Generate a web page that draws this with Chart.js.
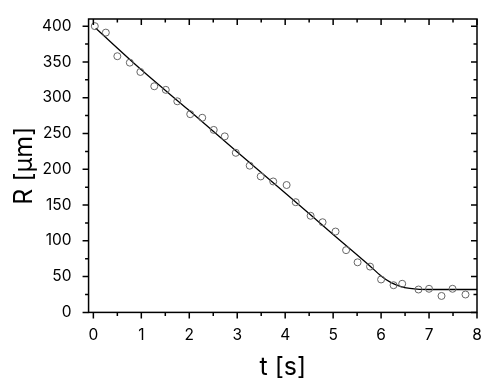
<!DOCTYPE html>
<html>
<head>
<meta charset="utf-8">
<script src="https://cdn.jsdelivr.net/npm/chart.js@4.4.0/dist/chart.umd.min.js"></script>
<style>
  html, body { margin: 0; padding: 0; background: #fff; }
  #wrap { width: 498px; height: 389px; }
</style>
</head>
<body>
<div id="wrap"><canvas id="radiusChart"></canvas></div>
<script>
// measured points
const timeValues = [0.03, 0.26, 0.5, 0.76, 0.98, 1.27, 1.51, 1.75, 2.02, 2.27, 2.51, 2.74, 2.97, 3.26, 3.49, 3.75,
  4.03, 4.22, 4.53, 4.78, 5.05, 5.27, 5.51, 5.77, 6.0, 6.26, 6.44, 6.78, 7.0, 7.26, 7.49, 7.76];
const radiusValues = [400, 391, 358, 349, 336, 316, 311, 295, 277, 272, 255, 246, 223, 205, 190, 183,
  178, 154, 135, 126, 113, 87, 70, 64, 46, 38, 40, 32, 33, 23, 33, 25];

// fitted curve
const fitTime = [0.05, 1, 2, 3, 4, 5, 5.75, 6.0, 6.2, 6.4, 6.6, 6.8, 7.0, 8.0];
const fitRadius = [397, 339, 282, 224, 167, 109, 66, 51, 42, 36.5, 33.5, 32.2, 32, 32];

const xMajorTicks = [0, 1, 2, 3, 4, 5, 6, 7, 8];
const xMinorTicks = [0.5, 1.5, 2.5, 3.5, 4.5, 5.5, 6.5, 7.5];
const yMajorTicks = [0, 50, 100, 150, 200, 250, 300, 350, 400];
const yMinorTicks = [25, 75, 125, 175, 225, 275, 325, 375];

function toPoints(xs, ys) {
  return xs.map((x, i) => ({ x: x, y: ys[i] }));
}

const frameTicks = {
  id: "frameTicks",
  afterDraw(chart) {
    const ctx = chart.ctx;
    const area = chart.chartArea;
    const xs = chart.scales.x;
    const ys = chart.scales.y;
    ctx.save();
    ctx.strokeStyle = "#000";
    ctx.lineWidth = 1.5;
    ctx.strokeRect(area.left, area.top, area.right - area.left, area.bottom - area.top);

    const drawX = (vals, len) => {
      vals.forEach((v) => {
        const px = xs.getPixelForValue(v);
        ctx.beginPath();
        ctx.moveTo(px, area.bottom);
        ctx.lineTo(px, area.bottom + len);
        ctx.moveTo(px, area.top);
        ctx.lineTo(px, area.top + len);
        ctx.stroke();
      });
    };
    const drawY = (vals, len) => {
      vals.forEach((v) => {
        const py = ys.getPixelForValue(v);
        ctx.beginPath();
        ctx.moveTo(area.left, py);
        ctx.lineTo(area.left - len, py);
        ctx.moveTo(area.right, py);
        ctx.lineTo(area.right - len, py);
        ctx.stroke();
      });
    };
    drawX(xMajorTicks, 6);
    drawX(xMinorTicks, 3.5);
    drawY(yMajorTicks, 6);
    drawY(yMinorTicks, 3.5);
    ctx.restore();
  }
};

new Chart(document.getElementById("radiusChart"), {
  type: "scatter",
  data: {
    datasets: [
      {
        label: "data",
        data: toPoints(timeValues, radiusValues),
        pointRadius: 3.5,
        pointBorderWidth: 1,
        pointBorderColor: "#666",
        pointBackgroundColor: "rgba(0,0,0,0)",
        showLine: false
      },
      {
        label: "fit",
        data: toPoints(fitTime, fitRadius),
        showLine: true,
        borderColor: "#000",
        borderWidth: 1.3,
        pointRadius: 0,
        cubicInterpolationMode: "monotone"
      }
    ]
  },
  options: {
    responsive: true,
    maintainAspectRatio: false,
    animation: false,
    layout: { padding: { top: 19, right: 21, left: 9, bottom: 7 } },
    plugins: { legend: { display: false }, tooltip: { enabled: false } },
    scales: {
      x: {
        type: "linear",
        min: -0.1,
        max: 8,
        afterBuildTicks: (scale) => { scale.ticks = xMajorTicks.map((v) => ({ value: v })); },
        grid: { display: false },
        border: { display: false },
        ticks: { color: "#000", padding: 6, font: { family: "Inter", size: 15.5 } },
        title: { display: true, text: "t [s]", color: "#000", font: { family: "Inter", size: 25 }, padding: { top: 1, bottom: 0 } }
      },
      y: {
        type: "linear",
        min: 0,
        max: 410,
        afterBuildTicks: (scale) => { scale.ticks = yMajorTicks.map((v) => ({ value: v })); },
        grid: { display: false },
        border: { display: false },
        ticks: { color: "#000", padding: 9, font: { family: "Inter", size: 15.5 } },
        title: { display: true, text: "R [μm]", color: "#000", font: { family: "Inter", size: 25 }, padding: { top: 0, bottom: -6 } }
      }
    }
  },
  plugins: [frameTicks]
});
</script>
</body>
</html>
